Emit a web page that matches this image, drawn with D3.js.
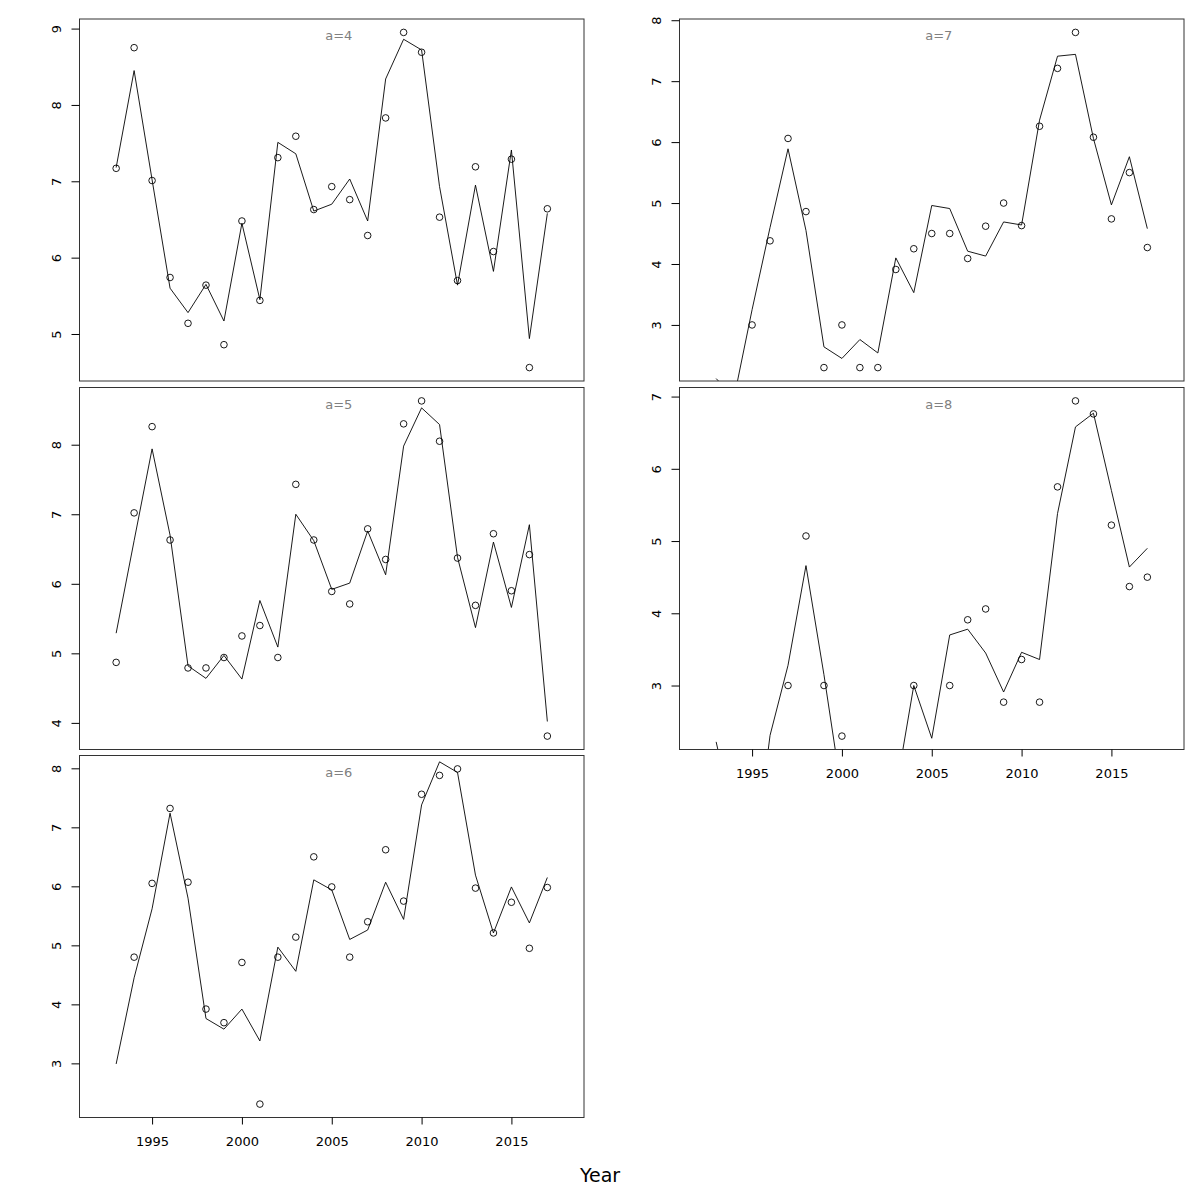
<!DOCTYPE html>
<html>
<head>
<meta charset="utf-8">
<script src="https://cdn.jsdelivr.net/npm/d3@7"></script>
<style>
  html, body { margin: 0; padding: 0; background: #fff; }
  svg { display: block; font-family: "DejaVu Sans", sans-serif; }
</style>
</head>
<body>
<svg id="chart" width="1200" height="1200"></svg>
<script>
// ---------- data ----------
const years = [1993,1994,1995,1996,1997,1998,1999,2000,2001,2002,2003,2004,2005,
               2006,2007,2008,2009,2010,2011,2012,2013,2014,2015,2016,2017];
const panelLabels = ["a=4","a=5","a=6","a=7","a=8"];

const obs_a4 = [7.17,8.75,7.01,5.74,5.14,5.64,4.86,6.48,5.44,7.31,7.59,6.63,6.93,
                6.76,6.29,7.83,8.95,8.69,6.53,5.70,7.19,6.08,7.29,4.56,6.64];
const fit_a4 = [7.18,8.45,7.02,5.60,5.28,5.65,5.17,6.45,5.45,7.51,7.36,6.61,6.70,
                7.03,6.48,8.34,8.86,8.72,6.93,5.64,6.95,5.82,7.41,4.94,6.58];

const obs_a5 = [4.87,7.02,8.26,6.63,4.79,4.79,4.94,5.25,5.40,4.94,7.43,6.63,5.89,
                5.71,6.79,6.35,8.30,8.63,8.05,6.37,5.69,6.72,5.90,6.42,3.81];
const fit_a5 = [5.29,6.62,7.94,6.70,4.82,4.64,4.97,4.63,5.76,5.09,7.00,6.62,5.92,
                6.01,6.76,6.13,7.98,8.53,8.29,6.38,5.37,6.60,5.66,6.85,4.02];

const obs_a6 = [null,4.80,6.05,7.32,6.07,3.92,3.69,4.71,2.31,4.80,5.14,6.50,5.99,
                4.80,5.40,6.62,5.75,7.56,7.88,7.99,5.97,5.21,5.73,4.95,5.98];
const fit_a6 = [2.99,4.45,5.62,7.24,5.80,3.76,3.58,3.92,3.38,4.97,4.56,6.11,5.94,
                5.10,5.26,6.07,5.44,7.38,8.11,7.93,6.19,5.21,5.99,5.38,6.15];

const obs_a7 = [null,null,3.00,4.38,6.06,4.86,2.30,3.00,2.30,2.30,3.91,4.25,4.50,
                4.50,4.09,4.62,5.00,4.63,6.26,7.21,7.80,6.08,4.74,5.50,4.27];
const fit_a7 = [2.12,1.81,3.25,4.60,5.89,4.55,2.64,2.45,2.76,2.54,4.10,3.53,4.96,
                4.91,4.21,4.13,4.69,4.64,6.36,7.41,7.44,6.06,4.97,5.76,4.58];

const obs_a8 = [null,null,null,null,3.00,5.07,3.00,2.30,null,null,null,3.00,null,
                3.00,3.91,4.06,2.77,3.36,2.77,5.75,6.94,6.76,5.22,4.37,4.50];
const fit_a8 = [2.22,1.11,0.35,2.31,3.28,4.66,3.15,1.50,1.40,1.30,1.54,3.00,2.27,
                3.70,3.78,3.45,2.91,3.46,3.36,5.38,6.58,6.77,5.70,4.64,4.90];

const yTicks_a4 = [5,6,7,8,9];
const yTicks_a5 = [4,5,6,7,8];
const yTicks_a6 = [3,4,5,6,7,8];
const yTicks_a7 = [3,4,5,6,7,8];
const yTicks_a8 = [3,4,5,6,7];
const xTicks = [1995,2000,2005,2010,2015];
const xDomain = [1990.96, 2019.04];
const xTitle = "Year";

// ---------- layout ----------
const panels = [
  {label: panelLabels[0], obs: obs_a4, fit: fit_a4, ticks: yTicks_a4, x0: 79.5, x1: 584, y0: 19, y1: 381, xaxis: false},
  {label: panelLabels[1], obs: obs_a5, fit: fit_a5, ticks: yTicks_a5, x0: 79.5, x1: 584, y0: 387.5, y1: 749.5, xaxis: false},
  {label: panelLabels[2], obs: obs_a6, fit: fit_a6, ticks: yTicks_a6, x0: 79.5, x1: 584, y0: 755.5, y1: 1117.5, xaxis: true},
  {label: panelLabels[3], obs: obs_a7, fit: fit_a7, ticks: yTicks_a7, x0: 679.5, x1: 1184, y0: 19, y1: 381, xaxis: false},
  {label: panelLabels[4], obs: obs_a8, fit: fit_a8, ticks: yTicks_a8, x0: 679.5, x1: 1184, y0: 387.5, y1: 749.5, xaxis: true}
];

const svg = d3.select("#chart");
const defs = svg.append("defs");

panels.forEach((p, i) => {
  const x = d3.scaleLinear().domain(xDomain).range([p.x0, p.x1]);
  const vals = p.obs.filter(v => v != null);
  const [mn, mx] = d3.extent(vals);
  const pad = (mx - mn) * 0.04;
  const y = d3.scaleLinear().domain([mn - pad, mx + pad]).range([p.y1, p.y0]);

  const clipId = "clip" + i;
  defs.append("clipPath").attr("id", clipId)
    .append("rect").attr("x", p.x0).attr("y", p.y0)
    .attr("width", p.x1 - p.x0).attr("height", p.y1 - p.y0);

  const g = svg.append("g");

  // fitted line
  const lineData = years.map((yr, k) => ({yr, v: p.fit[k]})).filter(d => d.v != null);
  g.append("path")
    .datum(lineData)
    .attr("clip-path", `url(#${clipId})`)
    .attr("fill", "none")
    .attr("stroke", "#000")
    .attr("stroke-width", 0.9)
    .attr("d", d3.line().x(d => x(d.yr)).y(d => y(d.v)));

  // observed points
  g.append("g").attr("clip-path", `url(#${clipId})`)
    .selectAll("circle")
    .data(years.map((yr, k) => ({yr, v: p.obs[k]})).filter(d => d.v != null))
    .join("circle")
    .attr("cx", d => x(d.yr))
    .attr("cy", d => y(d.v))
    .attr("r", 3.3)
    .attr("fill", "none")
    .attr("stroke", "#000")
    .attr("stroke-width", 0.9);

  // box
  g.append("rect")
    .attr("x", p.x0).attr("y", p.y0)
    .attr("width", p.x1 - p.x0).attr("height", p.y1 - p.y0)
    .attr("fill", "none").attr("stroke", "#333").attr("stroke-width", 1);

  // y axis
  const ya = g.append("g")
    .attr("transform", `translate(${p.x0},0)`)
    .attr("font-size", 13)
    .call(d3.axisLeft(y).tickValues(p.ticks).tickSize(8).tickFormat(d3.format("d")));
  ya.attr("font-size", 13).attr("font-family", "DejaVu Sans, sans-serif");
  ya.select(".domain").remove();
  ya.selectAll(".tick line").attr("stroke", "#000");
  ya.selectAll(".tick text")
    .attr("x", null).attr("dy", null)
    .attr("transform", "translate(-19,0) rotate(-90)")
    .attr("text-anchor", "middle")
    .style("font-size", "13px")
    .attr("fill", "#000");

  // x axis
  if (p.xaxis) {
    const xa = g.append("g")
      .attr("transform", `translate(0,${p.y1})`)
      .call(d3.axisBottom(x).tickValues(xTicks).tickSize(7).tickFormat(d3.format("d")));
    xa.attr("font-size", 13).attr("font-family", "DejaVu Sans, sans-serif");
    xa.select(".domain").remove();
    xa.selectAll(".tick line").attr("stroke", "#000");
    xa.selectAll(".tick text")
      .attr("y", 28).attr("dy", null)
      .style("font-size", "13px")
      .attr("fill", "#000");
  }

  // panel label
  g.append("text")
    .attr("x", (p.x0 + p.x1) / 2 + 7)
    .attr("y", p.y0 + 21)
    .attr("text-anchor", "middle")
    .style("font-size", "13px")
    .attr("fill", "#808080")
    .text(p.label);
});

svg.append("text")
  .attr("x", 600).attr("y", 1182)
  .attr("text-anchor", "middle")
  .style("font-size", "19px")
  .attr("fill", "#000")
  .text(xTitle);
</script>
</body>
</html>
